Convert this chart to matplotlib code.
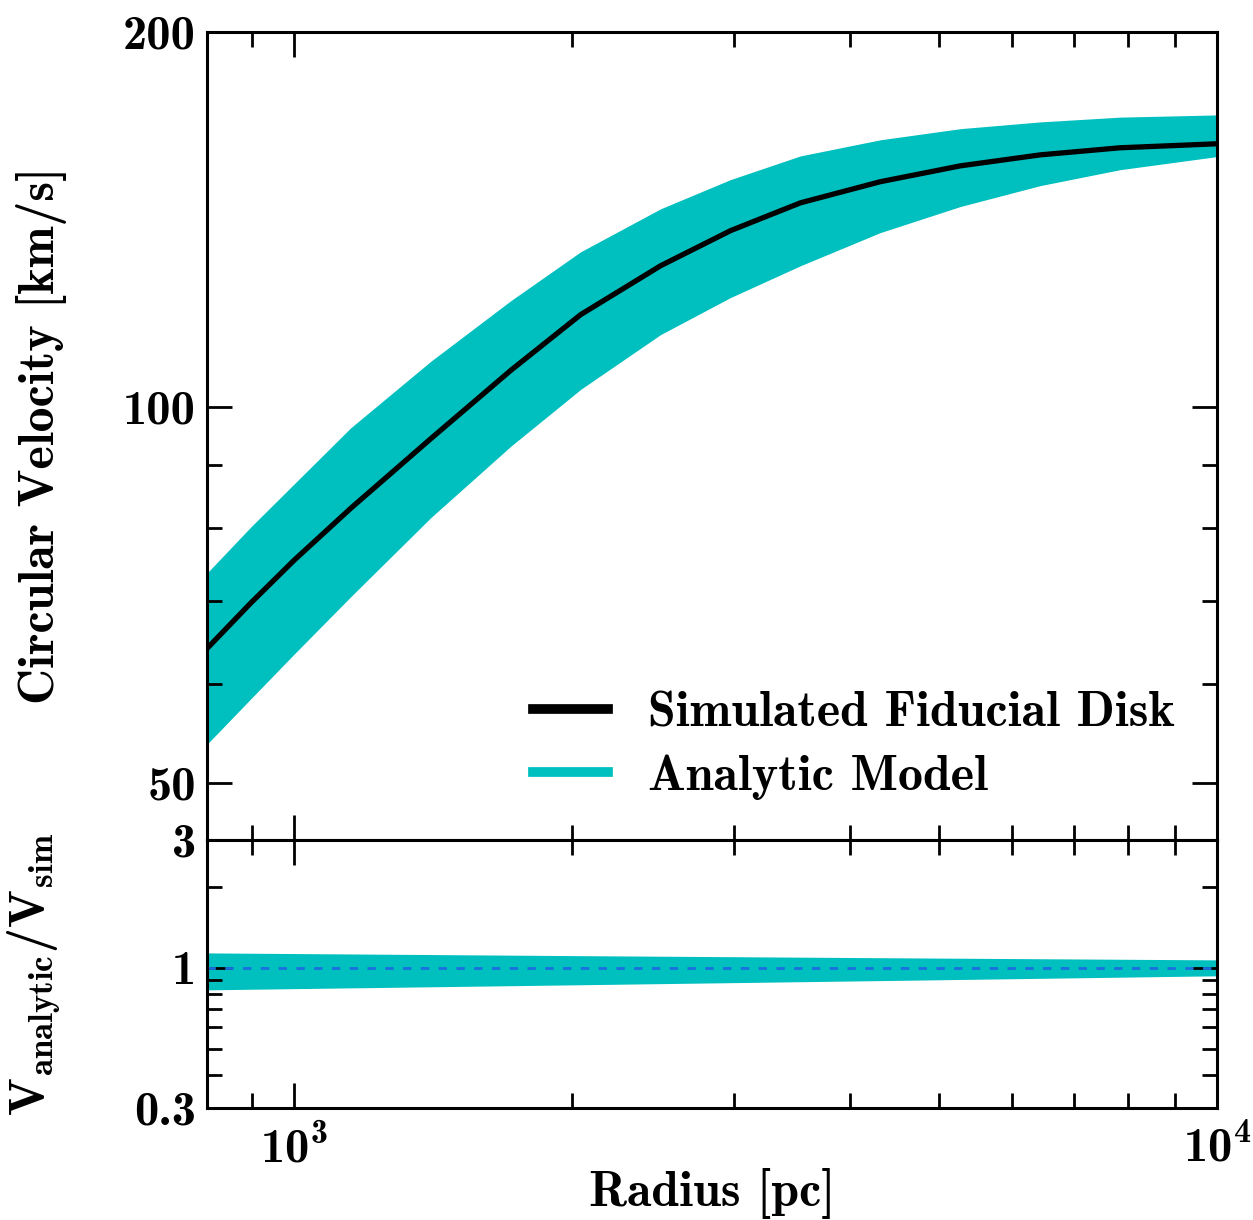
import numpy as np
import matplotlib
matplotlib.use("Agg")
import matplotlib.pyplot as plt
from matplotlib.ticker import FixedLocator, NullFormatter, FixedFormatter

# rotation curve (radius in pc, velocity in km/s)
radius = [807, 898, 1000, 1152, 1407, 1718, 2045, 2496, 2972, 3538,
          4318, 5271, 6433, 7852, 10000]
v_sim = [64.2, 69.7, 75.4, 83.0, 94.4, 107.1, 118.7, 129.9, 138.6, 145.9,
         151.7, 156.2, 159.4, 161.5, 162.7]
v_model_hi = [73.8, 80.2, 86.8, 96.3, 108.9, 121.8, 133.3, 144.3, 152.3, 159.1,
              163.9, 167.3, 169.4, 170.9, 171.6]
v_model_lo = [53.8, 58.4, 63.4, 70.5, 81.6, 93.1, 103.4, 114.4, 122.5, 129.9,
              138.1, 144.9, 150.6, 155.1, 158.9]

# ratio panel
ratio_radius = [807, 2000, 4500, 10000]
ratio_hi = [1.137, 1.111, 1.090, 1.071]
ratio_lo = [0.828, 0.864, 0.898, 0.934]

cyan = '#00bfbf'

plt.rcParams['font.family'] = 'cmb10'
plt.rcParams['mathtext.fontset'] = 'custom'
plt.rcParams['mathtext.rm'] = 'cmb10'
plt.rcParams['mathtext.bf'] = 'cmb10'
plt.rcParams['mathtext.it'] = 'cmb10'
plt.rcParams['axes.unicode_minus'] = False

fig = plt.figure(figsize=(12.53, 12.20), dpi=100)
ax1 = fig.add_axes([0.1652, 0.3115, 0.8061, 0.6623])
ax2 = fig.add_axes([0.1652, 0.0918, 0.8061, 0.2197])

ax1.fill_between(radius, v_model_lo, v_model_hi, color=cyan, lw=0)
ax1.plot(radius, v_sim, color='black', lw=3.8)
# legend handles
ax1.plot([], [], color='black', lw=7, label='Simulated Fiducial Disk')
ax1.plot([], [], color=cyan, lw=7, label='Analytic Model')

ax2.fill_between(ratio_radius, ratio_lo, ratio_hi, color=cyan, lw=0)
ax2.axhline(1.0, color='#1a6fdf', lw=2.0, dashes=(3.0, 3.4))

xmin, xmax = 805, 10000
minor_x = [900, 2000, 3000, 4000, 5000, 6000, 7000, 8000, 9000]
for ax in (ax1, ax2):
    ax.set_xscale('log')
    ax.set_yscale('log')
    ax.set_xlim(xmin, xmax)
    ax.xaxis.set_major_locator(FixedLocator([1000, 10000]))
    ax.xaxis.set_minor_locator(FixedLocator(minor_x))
    ax.xaxis.set_minor_formatter(NullFormatter())
    ax.yaxis.set_minor_formatter(NullFormatter())
    ax.tick_params(which='both', direction='in', top=True, right=True,
                   width=2.0, labelsize=35)
    ax.tick_params(which='major', length=18, pad=8)
    ax.tick_params(which='minor', length=11)
    for s in ax.spines.values():
        s.set_linewidth(2.2)

ax1.set_ylim(45, 200)
ax1.yaxis.set_major_locator(FixedLocator([50, 100, 200]))
ax1.yaxis.set_major_formatter(FixedFormatter(['50', '100', '200']))
ax1.yaxis.set_minor_locator(FixedLocator([60, 70, 80, 90]))
ax1.xaxis.set_major_formatter(NullFormatter())

ax2.set_ylim(0.3, 3)
ax2.yaxis.set_major_locator(FixedLocator([0.3, 1, 3]))
ax2.yaxis.set_major_formatter(FixedFormatter(['0.3', '1', '3']))
ax2.yaxis.set_minor_locator(FixedLocator([0.4, 0.5, 0.6, 0.7, 0.8, 0.9, 2]))
ax2.xaxis.set_major_formatter(FixedFormatter([r'$10^3$', r'$10^4$']))
ax2.tick_params(axis='x', which='major', pad=11)

ax1.set_ylabel('Circular Velocity [km/s]', fontsize=36)
ax1.yaxis.set_label_coords(-0.139, 0.5)
ax2.set_ylabel(r'$\mathrm{V_{analytic}/V_{sim}}$', fontsize=36)
ax2.yaxis.set_label_coords(-0.143, 0.5)
ax2.set_xlabel('Radius [pc]', fontsize=36)
ax2.xaxis.set_label_coords(0.5, -0.224)

ax1.legend(loc='lower right', bbox_to_anchor=(0.978, 0.025), frameon=False,
           fontsize=36, handlelength=1.5, handletextpad=0.8, labelspacing=0.35,
           borderaxespad=0)

fig.savefig('out.png', dpi=100)
